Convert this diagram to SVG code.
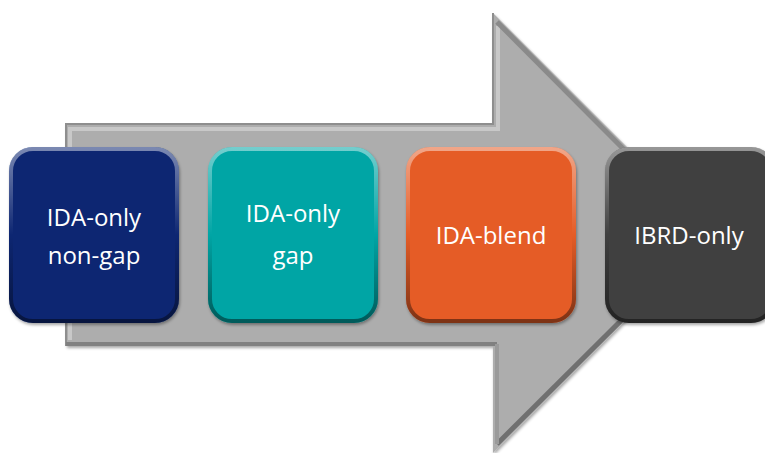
<svg xmlns="http://www.w3.org/2000/svg" width="765" height="453" viewBox="0 0 765 453">
<defs>
<style>
.lbl{font-family:"Open Sans","Liberation Sans",sans-serif;font-size:24px;fill:#ffffff;text-anchor:middle}
</style>
<linearGradient id="bev" x1="0" y1="0" x2="0" y2="1">
<stop offset="0" stop-color="#ffffff" stop-opacity="0.45"/>
<stop offset="0.5" stop-color="#ffffff" stop-opacity="0"/>
<stop offset="0.5" stop-color="#000000" stop-opacity="0"/>
<stop offset="1" stop-color="#000000" stop-opacity="0.45"/>
</linearGradient>
<filter id="sh" x="-10%" y="-10%" width="120%" height="120%">
<feDropShadow dx="1" dy="2" stdDeviation="1.5" flood-color="#000" flood-opacity="0.35"/>
</filter>
</defs>
<g id="arrow">
<polygon points="66,124 493,124 493,13 713,233 493,453 493,346 66,346" fill="#adadad" filter="url(#sh)"/>
<polyline points="70,340 70,129 498,129 498,26" fill="none" stroke="#c8c8c8" stroke-width="4"/>
<polyline points="66,346 66,124 493,124 493,13" fill="none" stroke="#8e8e8e" stroke-width="2"/>
<line x1="497" y1="22" x2="706" y2="232" stroke="#8a8a8a" stroke-width="5"/>
<line x1="497" y1="444" x2="706" y2="236" stroke="#707070" stroke-width="5"/>
<line x1="66" y1="344" x2="497" y2="344" stroke="#808080" stroke-width="4"/>
<line x1="497" y1="344" x2="497" y2="444" stroke="#9a9a9a" stroke-width="4"/>
</g>
<g id="n1">
<rect x="9" y="147" width="170" height="176" rx="24" fill="#0b2872" filter="url(#sh)"/>
<rect x="11" y="149" width="166" height="172" rx="22" fill="none" stroke="url(#bev)" stroke-width="4"/>
<text class="lbl" x="94" y="226">IDA-only</text>
<text class="lbl" x="94" y="264">non-gap</text>
</g>
<g id="n2">
<rect x="208" y="147" width="170" height="176" rx="24" fill="#06a5a5" filter="url(#sh)"/>
<rect x="210" y="149" width="166" height="172" rx="22" fill="none" stroke="url(#bev)" stroke-width="4"/>
<text class="lbl" x="293" y="222">IDA-only</text>
<text class="lbl" x="293" y="264">gap</text>
</g>
<g id="n3">
<rect x="406" y="147" width="170" height="176" rx="24" fill="#e55b26" filter="url(#sh)"/>
<rect x="408" y="149" width="166" height="172" rx="22" fill="none" stroke="url(#bev)" stroke-width="4"/>
<text class="lbl" x="491" y="244">IDA-blend</text>
</g>
<g id="n4">
<rect x="605" y="147" width="170" height="176" rx="24" fill="#404040" filter="url(#sh)"/>
<rect x="607" y="149" width="166" height="172" rx="22" fill="none" stroke="url(#bev)" stroke-width="4"/>
<text class="lbl" x="689" y="244">IBRD-only</text>
</g>
<g id="connectors"></g>
</svg>
